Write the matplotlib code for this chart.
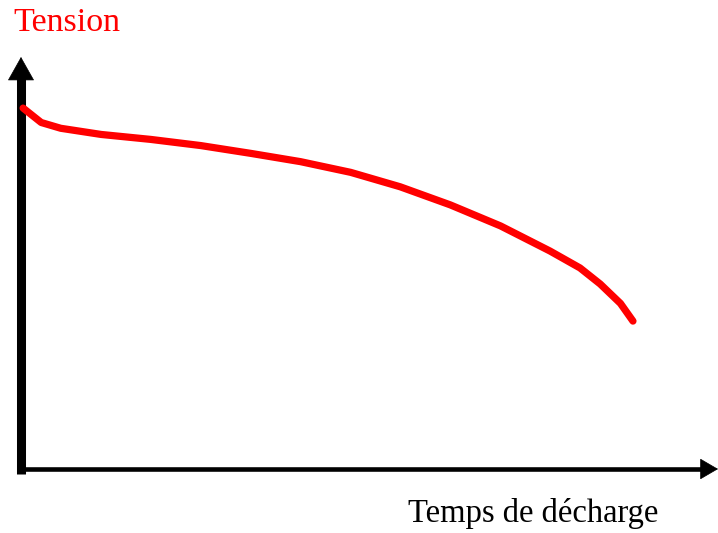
#!/usr/bin/env python
"""Battery discharge sketch: voltage vs discharge time."""

import matplotlib

matplotlib.use("Agg")
import matplotlib.pyplot as plt

W, H = 718, 533

# discharge time (arbitrary units) and voltage (arbitrary units)
TIME = [0.3, 2.9, 5.7, 11.5, 18.6, 25.8, 33.0, 40.1, 47.3, 54.4,
        61.6, 68.8, 75.9, 80.2, 83.1, 86.0, 87.8]
VOLTAGE = [87.6, 84.1, 82.7, 81.2, 80.0, 78.5, 76.6, 74.6, 72.0, 68.5,
           64.1, 59.0, 52.9, 48.8, 44.9, 40.2, 35.9]

Y_LABEL = "Tension"
X_LABEL = "Temps de décharge"


def px(x, y):
    """pixel position (from top-left) -> figure fraction"""
    return x / W, (H - y) / H


def main():
    fig = plt.figure(figsize=(W / 100, H / 100), dpi=100)
    x0, y0 = px(21, 469)
    ax = fig.add_axes([x0, y0, (W - 21) / W, (469 - 57) / H])
    ax.set_xlim(0, 100)
    ax.set_ylim(0, 100)
    ax.axis("off")

    # axes shafts
    ax.plot([0, 0], [-0.012, 0.95], transform=ax.transAxes, color="black",
            lw=6.5, solid_capstyle="butt", clip_on=False)
    ax.plot([-0.006, 0.98], [0, 0], transform=ax.transAxes, color="black",
            lw=3.3, solid_capstyle="butt", clip_on=False)
    # arrow heads
    ax.annotate("", xy=(0, 1.0), xytext=(0, 0.94), xycoords="axes fraction",
                arrowprops=dict(arrowstyle="-|>,head_length=1.6,head_width=0.9",
                                color="black", lw=0.5, shrinkA=0, shrinkB=0),
                annotation_clip=False)
    ax.annotate("", xy=(1.0, 0), xytext=(0.97, 0), xycoords="axes fraction",
                arrowprops=dict(arrowstyle="-|>,head_length=1.2,head_width=0.7",
                                color="black", lw=0.5, shrinkA=0, shrinkB=0),
                annotation_clip=False)

    ax.plot(TIME, VOLTAGE, color="#ff0000", lw=5.2, solid_capstyle="round",
            solid_joinstyle="round", clip_on=False)

    tx, ty = px(13, 31)
    fig.text(tx, ty, Y_LABEL, color="#ff0000", fontsize=24.5,
             family="Liberation Serif", va="baseline", ha="left")
    tx, ty = px(408, 522)
    fig.text(tx, ty, X_LABEL, color="black", fontsize=23.5,
             family="Liberation Serif", va="baseline", ha="left")

    fig.savefig("out.png", dpi=100)
    plt.close(fig)


if __name__ == "__main__":
    main()
